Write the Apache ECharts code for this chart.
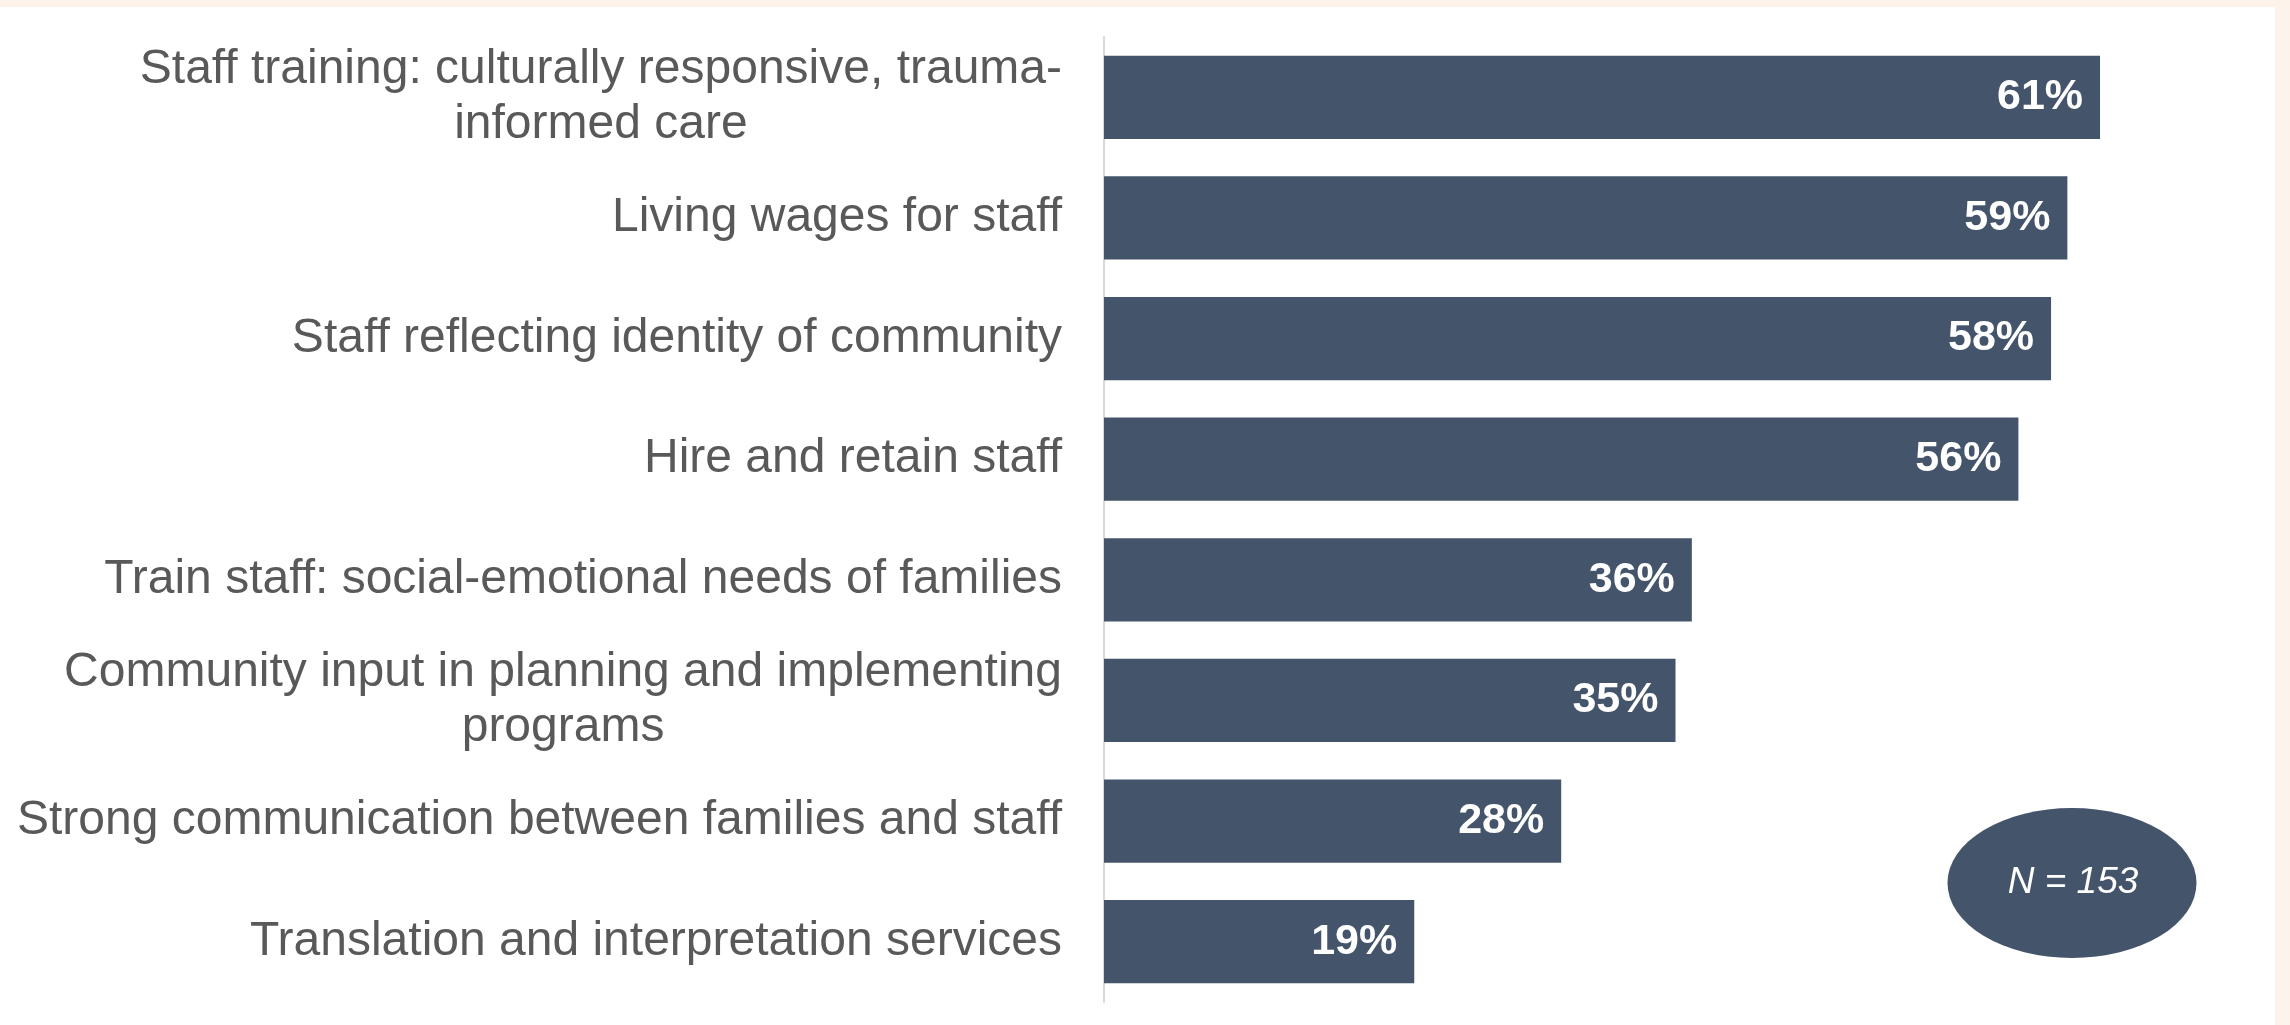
<!DOCTYPE html>
<html>
<head>
<meta charset="utf-8">
<script src="https://cdn.jsdelivr.net/npm/echarts@6/dist/echarts.min.js"></script>
<style>
  html, body { margin: 0; padding: 0; background: #ffffff; }
  #chart { width: 2290px; height: 1025px; }
</style>
</head>
<body>
<div id="chart"></div>
<script>
// Workforce supports named by respondents (share of respondents, %)
const categories = [
  'Staff training: culturally responsive, trauma-\ninformed care',
  'Living wages for staff',
  'Staff reflecting identity of community',
  'Hire and retain staff',
  'Train staff: social-emotional needs of families',
  'Community input in planning and implementing\nprograms',
  'Strong communication between families and staff',
  'Translation and interpretation services'
];
const values = [61, 59, 58, 56, 36, 35, 28, 19];
const sampleNote = 'N = 153';

const FONT = '"Liberation Sans", Arial, sans-serif';
const BAR = '#44546a';
const PEACH = '#fdf3eb';

const chart = echarts.init(document.getElementById('chart'), null, { renderer: 'canvas' });

chart.setOption({
  backgroundColor: '#ffffff',
  animation: false,
  grid: { left: 1104, right: 43, top: 37, bottom: 23, containLabel: false },
  xAxis: {
    type: 'value',
    min: 0,
    max: 70,
    show: false,
    splitLine: { show: false }
  },
  yAxis: {
    type: 'category',
    inverse: true,
    data: categories,
    axisLine: { show: true, lineStyle: { color: '#d9d9d9', width: 2 } },
    axisTick: { show: false },
    axisLabel: {
      margin: 42,
      formatter: function (v) {
        return v.split('\n').map(function (s) { return '{c|' + s + '}'; }).join('\n');
      },
      rich: {
        c: {
          align: 'center',
          fontFamily: FONT,
          fontSize: 48,
          lineHeight: 55,
          color: '#595959'
        }
      }
    }
  },
  series: [{
    type: 'bar',
    data: values,
    barCategoryGap: '31%',
    itemStyle: { color: BAR },
    label: {
      show: true,
      position: 'insideRight',
      distance: 17,
      formatter: '{c}%',
      fontFamily: FONT,
      fontWeight: 'bold',
      fontSize: 43,
      color: '#ffffff'
    }
  }],
  graphic: [
    { type: 'rect', left: 0, top: 0, shape: { width: 2290, height: 7 }, style: { fill: PEACH }, silent: true },
    { type: 'rect', left: 2275, top: 0, shape: { width: 15, height: 1025 }, style: { fill: PEACH }, silent: true },
    {
      type: 'circle',
      x: 2072, y: 883,
      scaleX: 249 / 150,
      shape: { cx: 0, cy: 0, r: 75 },
      style: { fill: BAR },
      silent: true
    },
    {
      type: 'text',
      x: 2073, y: 883,
      style: {
        text: sampleNote,
        fill: '#ffffff',
        font: 'italic 37px ' + FONT,
        textAlign: 'center',
        textVerticalAlign: 'middle'
      },
      silent: true
    }
  ]
});
</script>
</body>
</html>
